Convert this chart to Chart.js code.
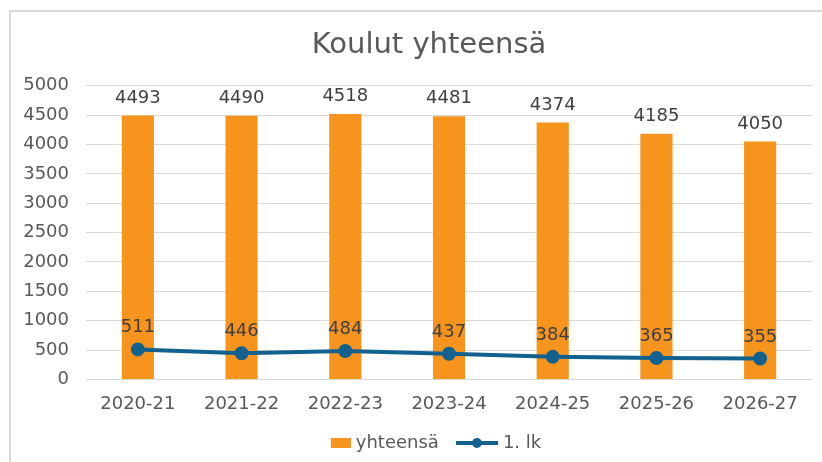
<!DOCTYPE html>
<html>
<head>
<meta charset="utf-8">
<script src="https://cdn.jsdelivr.net/npm/chart.js@4.4.1/dist/chart.umd.min.js"></script>
<style>
html,body{margin:0;padding:0;background:#fff}
#frame{position:absolute;left:9px;top:10px;width:900px;height:500px;border:2px solid #d9d9d9;box-sizing:border-box}
#wrap{position:absolute;left:0;top:0;width:822px;height:462px}
</style>
</head>
<body>
<div id="frame"></div>
<div id="wrap"><canvas id="chart"></canvas></div>
<script>
// school years
const years = ["2020-21","2021-22","2022-23","2023-24","2024-25","2025-26","2026-27"]
// pupils total
const totals = [4493,4490,4518,4481,4374,4185,4050]
// 1st grade
const firstGrade = [511,446,484,437,384,365,355]

const orange = "#f7941d"
const blue = "#12618f"
const font = "'DejaVu Sans', Verdana, sans-serif"

// legend symbols, a bit wider than the 42px box so the gap to the text is small
function legendIcon(kind){
const c = document.createElement("canvas")
c.width = 50
c.height = 10
const g = c.getContext("2d")
if(kind==="bar"){
g.fillStyle = orange
g.fillRect(30,0,20,10)
}else{
g.strokeStyle = blue
g.lineWidth = 4
g.beginPath()
g.moveTo(8,5)
g.lineTo(50,5)
g.stroke()
g.fillStyle = blue
g.beginPath()
g.arc(29,5,5,0,Math.PI*2)
g.fill()
}
return c
}

// value labels above bars and points
const valueLabels = {
id:"valueLabels",
afterDatasetsDraw(chart){
const ctx = chart.ctx
ctx.save()
ctx.font = "18px " + font
ctx.fillStyle = "#404040"
ctx.textAlign = "center"
ctx.textBaseline = "alphabetic"
chart.data.datasets.forEach((ds,i)=>{
const meta = chart.getDatasetMeta(i)
const gap = ds.type==="line" ? 17 : 13
meta.data.forEach((el,j)=>{
ctx.fillText(ds.data[j], el.x, el.y - gap)
})
})
ctx.restore()
}
}

// centre title and legend like the original
const blockShift = {
id:"blockShift",
afterLayout(chart){
const t = chart.titleBlock
t.left = 46
t.right = chart.chartArea.right
chart.legend.left += 6
chart.legend.right += 6
}
}

new Chart(document.getElementById("chart"),{
data:{
labels: years,
datasets:[
{
type:"line",
label:"1. lk",
data: firstGrade,
borderColor: blue,
backgroundColor: blue,
borderWidth:4,
pointRadius:5,
pointHoverRadius:5,
tension:0,
order:0
},
{
type:"bar",
label:"yhteensä",
data: totals,
backgroundColor: orange,
categoryPercentage:1,
barPercentage:0.31,
order:1
}
]
},
options:{
responsive:true,
maintainAspectRatio:false,
animation:false,
layout:{
padding:{left:22,right:10,top:18,bottom:0}
},
plugins:{
title:{
display:true,
text:"Koulut yhteensä",
color:"#595959",
font:{family:font,size:29,weight:"normal"},
padding:{top:10,bottom:23}
},
legend:{
position:"bottom",
labels:{
color:"#595959",
font:{family:font,size:18},
usePointStyle:true,
pointStyleWidth:42,
padding:13,
generateLabels(chart){
return [
{text:"yhteensä", pointStyle:legendIcon("bar"), fontColor:"#595959", lineWidth:0, datasetIndex:1},
{text:"1. lk", pointStyle:legendIcon("line"), fontColor:"#595959", lineWidth:0, datasetIndex:0}
]
}
}
},
tooltip:{enabled:false}
},
scales:{
x:{
offset:true,
grid:{display:false},
border:{display:false},
afterFit(scale){ scale.paddingLeft = 0; scale.paddingRight = 0 },
ticks:{color:"#595959", font:{family:font,size:18}, padding:6}
},
y:{
min:0,
max:5000,
border:{display:false},
afterFit(scale){ scale.width = 64 },
grid:{color:"#d9d9d9", drawTicks:false},
ticks:{stepSize:500, color:"#595959", font:{family:font,size:18}, padding:17, callback:v => String(v)}
}
}
},
plugins:[valueLabels, blockShift]
})
</script>
</body>
</html>
